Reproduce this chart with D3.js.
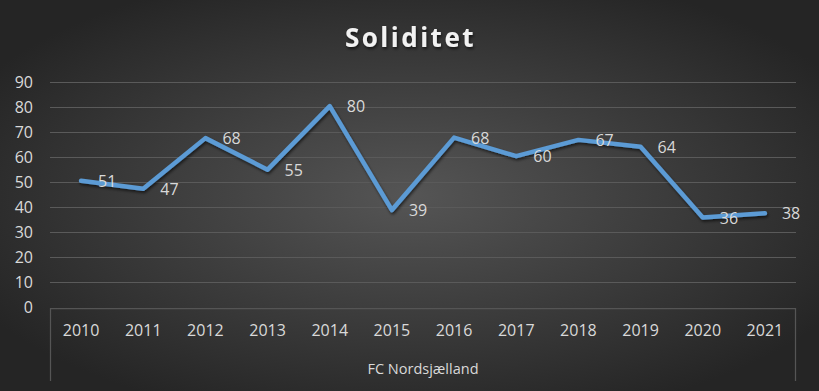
<!DOCTYPE html>
<html>
<head>
<meta charset="utf-8">
<script src="https://cdn.jsdelivr.net/npm/d3@7"></script>
<style>
  body { margin: 0; background: #2b2b2b; }
  svg { display: block; }
</style>
</head>
<body>
<div id="chart"></div>
<script>
// data
const years = ["2010","2011","2012","2013","2014","2015","2016","2017","2018","2019","2020","2021"];
const soliditet = [50.6, 47.4, 67.6, 55.0, 80.4, 38.9, 67.8, 60.4, 66.9, 64.2, 35.9, 37.6];
const yTicks = [0, 10, 20, 30, 40, 50, 60, 70, 80, 90];
const groupLabel = "FC Nordsjælland";

const width = 819, height = 391;
const margin = {left: 50, right: 23, top: 82, bottom: 83};

const svg = d3.select("#chart").append("svg")
  .attr("width", width)
  .attr("height", height);

const defs = svg.append("defs");
const grad = defs.append("radialGradient")
  .attr("id", "bg")
  .attr("cx", "50%").attr("cy", "50%").attr("r", "60%");
grad.append("stop").attr("offset", "0%").attr("stop-color", "#555555");
grad.append("stop").attr("offset", "100%").attr("stop-color", "#252525");

const shadow = defs.append("filter").attr("id", "shadow")
  .attr("x", "-5%").attr("y", "-20%").attr("width", "110%").attr("height", "140%");
shadow.append("feDropShadow")
  .attr("dx", 1).attr("dy", 2).attr("stdDeviation", 1.5)
  .attr("flood-color", "#000").attr("flood-opacity", 0.6);

svg.append("rect").attr("width", width).attr("height", height).attr("fill", "url(#bg)");

// title
svg.append("text")
  .attr("x", width / 2 + 1).attr("y", 47)
  .attr("text-anchor", "middle")
  .attr("font-family", "'Open Sans', sans-serif")
  .attr("font-weight", "bold")
  .attr("font-size", "26px")
  .attr("letter-spacing", "2.5px")
  .attr("fill", "#f2f2f2")
  .attr("filter", "url(#shadow)")
  .text("Soliditet");

const xScale = d3.scaleBand()
  .domain(years)
  .range([margin.left, width - margin.right]);

const yScale = d3.scaleLinear()
  .domain([0, 90])
  .range([height - margin.bottom - 0.5, margin.top]);

// gridlines
svg.append("g")
  .selectAll("line")
  .data(yTicks.filter(d => d > 0))
  .join("line")
  .attr("x1", margin.left).attr("x2", width - margin.right)
  .attr("y1", d => Math.round(yScale(d)) + 0.5)
  .attr("y2", d => Math.round(yScale(d)) + 0.5)
  .attr("stroke", "#5a5a5a")
  .attr("stroke-width", 1);

// y axis labels
const yAxis = svg.append("g")
  .attr("transform", `translate(${margin.left - 17},0)`)
  .call(d3.axisLeft(yScale).tickValues(yTicks).tickSize(0).tickPadding(0));
yAxis.select(".domain").remove();
yAxis.selectAll("text")
  .attr("font-family", "'Open Sans', sans-serif")
  .attr("font-size", "16px")
  .attr("fill", "#d9d9d9");

// x axis with group box
const axisY = Math.round(yScale(0)) + 0.5;
const boxBottom = 381;
svg.append("path")
  .attr("d", `M${margin.left + 0.5},${boxBottom} V${axisY} H${width - margin.right - 0.5} V${boxBottom}`)
  .attr("fill", "none")
  .attr("stroke", "#555555")
  .attr("stroke-width", 1.25);

const xAxis = svg.append("g")
  .attr("transform", `translate(0,${axisY})`)
  .call(d3.axisBottom(xScale).tickSize(0).tickPadding(16));
xAxis.select(".domain").remove();
xAxis.selectAll("text")
  .attr("font-family", "'Open Sans', sans-serif")
  .attr("font-size", "16px")
  .attr("fill", "#d9d9d9");

svg.append("text")
  .attr("x", (margin.left + width - margin.right) / 2)
  .attr("y", 374)
  .attr("text-anchor", "middle")
  .attr("font-family", "'Open Sans', sans-serif")
  .attr("font-size", "14.5px")
  .attr("fill", "#d9d9d9")
  .text(groupLabel);

// line
const line = d3.line()
  .x((d, i) => xScale(years[i]) + xScale.bandwidth() / 2)
  .y(d => yScale(d));

svg.append("path")
  .datum(soliditet)
  .attr("d", line)
  .attr("fill", "none")
  .attr("stroke", "#5b9bd5")
  .attr("stroke-width", 4.5)
  .attr("stroke-linejoin", "round")
  .attr("stroke-linecap", "round")
  .attr("filter", "url(#shadow)");

// data labels
svg.append("g")
  .selectAll("text")
  .data(soliditet)
  .join("text")
  .attr("x", (d, i) => xScale(years[i]) + xScale.bandwidth() / 2 + 17)
  .attr("y", d => yScale(d) + 6)
  .attr("font-family", "'Open Sans', sans-serif")
  .attr("font-size", "16px")
  .attr("fill", "#d9d9d9")
  .text(d => d3.format(".0f")(d));
</script>
</body>
</html>
